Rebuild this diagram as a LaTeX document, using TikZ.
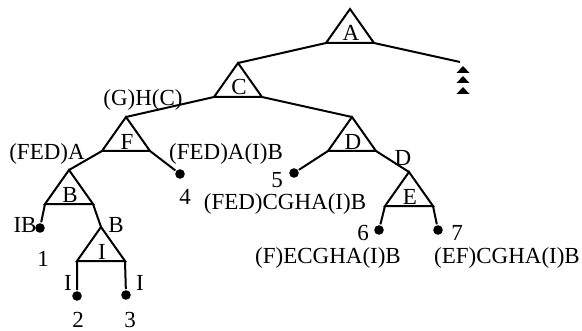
\documentclass[tikz,border=0pt]{standalone}
\usepackage{fontspec}
\setmainfont{Liberation Serif}
\usetikzlibrary{positioning}

\begin{document}
\begin{tikzpicture}[x=0.5pt, y=-0.5pt, line width=1pt, font=\fontsize{11.5}{13}\selectfont,
                dot/.style={circle, fill, inner sep=0pt, minimum size=4.8pt},
                lbl/.style={inner sep=0pt}]
                \useasboundingbox (0,0) rectangle (582,331);

                % triangles: apex (t), base left (l), base right (r)
                \foreach \n/\x/\y in {A/350/9, C/238/63, F/126/117, B/69/170, I/101/227, D/352/117, E/409/172} {
                    \coordinate (\n-t) at (\x,\y);
                    \coordinate (\n-l) at ({\x-24},{\y+34});
                    \coordinate (\n-r) at ({\x+24},{\y+34});
                    \draw (\n-t) -- (\n-l) -- (\n-r) -- cycle;
                    \node[lbl, anchor=base] (\n-lab) at ({\x+1},{\y+32}) {\n};
                }

                % leaves
                \node[dot] (d1) at (40,228) {};
                \node[dot] (d2) at (77,296) {};
                \node[dot] (d3) at (126,295) {};
                \node[dot] (d4) at (180,174) {};
                \node[dot] (d5) at (294,173) {};
                \node[dot] (d6) at (379,230) {};
                \node[dot] (d7) at (438,230) {};
                \coordinate (more) at (460,62);

                \foreach \dy in {4,14,25}
                    \fill (463,{62+\dy}) -- ++(6.5,7) -- ++(-13,0) -- cycle;

                \draw (A-l) -- (C-t)
                      (A-r) -- (more)
                      (C-l) -- (F-t)
                      (C-r) -- (D-t)
                      (F-l) -- (B-t)
                      (F-r) -- (d4)
                      (B-l) -- (d1)
                      (B-r) -- (I-t)
                      (I-l) -- (d2)
                      (I-r) -- (d3)
                      (D-l) -- (d5)
                      (D-r) -- (E-t)
                      (E-l) -- (d6)
                      (E-r) -- (d7);

                % texts
                \node[lbl] (t1) at (143,100) {(G)H(C)};
                \node[lbl] (t2) at (47,154) {(FED)A};
                \node[lbl] (t3) at (226,154) {(FED)A(I)B};
                \node[lbl] (t4) at (185,197) {4};
                \node[lbl] (t5) at (277,180) {5};
                \node[lbl] (t6) at (285,204) {(FED)CGHA(I)B};
                \node[lbl] (t7) at (25,225) {IB};
                \node[lbl] (t8) at (43,259) {1};
                \node[lbl] (t9) at (116,225) {B};
                \node[lbl] (t10) at (68,283) {I};
                \node[lbl] (t11) at (140,283) {I};
                \node[lbl] (t12) at (78,320) {2};
                \node[lbl] (t13) at (130,320) {3};
                \node[lbl] (t14) at (403,158) {D};
                \node[lbl] (t15) at (363,233) {6};
                \node[lbl] (t16) at (457,233) {7};
                \node[lbl] (t17) at (328,258) {(F)ECGHA(I)B};
                \node[lbl] (t18) at (507,258) {(EF)CGHA(I)B};
\end{tikzpicture}
\end{document}
